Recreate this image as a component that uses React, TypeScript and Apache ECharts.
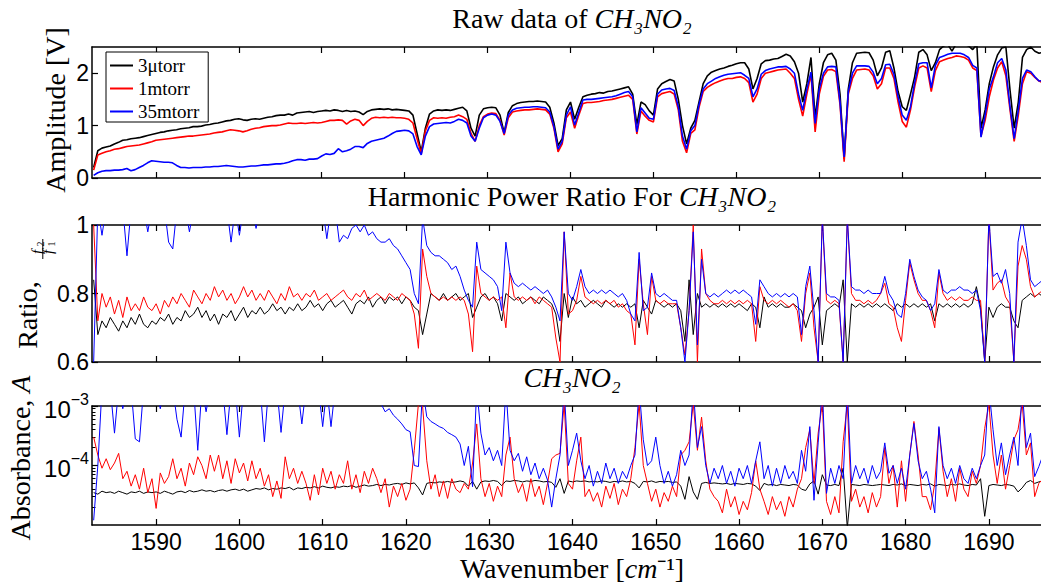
import React, { useEffect, useRef } from "react";
import * as echarts from "echarts";

// Wavenumber sample positions [cm^-1]
const WAVENUMBER = [
  1582.5,1583,1583.5,1584,1584.5,1585,1585.5,1586,1586.5,1587,
  1587.5,1588,1588.5,1589,1589.5,1590,1590.5,1591,1591.5,1592,
  1592.5,1593,1593.5,1594,1594.5,1595,1595.5,1596,1596.5,1597,
  1597.5,1598,1598.5,1599,1599.5,1600,1600.5,1601,1601.5,1602,
  1602.5,1603,1603.5,1604,1604.5,1605,1605.5,1606,1606.5,1607,
  1607.5,1608,1608.5,1609,1609.5,1610,1610.5,1611,1611.5,1612,
  1612.5,1613,1613.5,1614,1614.5,1615,1615.5,1616,1616.5,1617,
  1617.5,1618,1618.5,1619,1619.5,1620,1620.5,1621,1621.5,1622,
  1622.5,1623,1623.5,1624,1624.5,1625,1625.5,1626,1626.5,1627,
  1627.5,1628,1628.5,1629,1629.5,1630,1630.5,1631,1631.5,1632,
  1632.5,1633,1633.5,1634,1634.5,1635,1635.5,1636,1636.5,1637,
  1637.5,1638,1638.5,1639,1639.5,1640,1640.5,1641,1641.5,1642,
  1642.5,1643,1643.5,1644,1644.5,1645,1645.5,1646,1646.5,1647,
  1647.5,1648,1648.5,1649,1649.5,1650,1650.5,1651,1651.5,1652,
  1652.5,1653,1653.5,1654,1654.5,1655,1655.5,1656,1656.5,1657,
  1657.5,1658,1658.5,1659,1659.5,1660,1660.5,1661,1661.5,1662,
  1662.5,1663,1663.5,1664,1664.5,1665,1665.5,1666,1666.5,1667,
  1667.5,1668,1668.5,1669,1669.5,1670,1670.5,1671,1671.5,1672,
  1672.5,1673,1673.5,1674,1674.5,1675,1675.5,1676,1676.5,1677,
  1677.5,1678,1678.5,1679,1679.5,1680,1680.5,1681,1681.5,1682,
  1682.5,1683,1683.5,1684,1684.5,1685,1685.5,1686,1686.5,1687,
  1687.5,1688,1688.5,1689,1689.5,1690,1690.5,1691,1691.5,1692,
  1692.5,1693,1693.5,1694,1694.5,1695,1695.5,1696,1696.5,1697,
];

// ---- Raw data, Amplitude [V] ----
const AMP_3UTORR = [
  0.2,0.52,0.57,0.59,0.61,0.65,0.68,0.72,0.73,0.75,
  0.76,0.77,0.79,0.81,0.83,0.85,0.87,0.88,0.9,0.91,
  0.92,0.94,0.95,0.96,0.98,0.98,0.99,1.01,1.02,1.04,
  1.05,1.07,1.09,1.1,1.12,1.13,1.11,1.1,1.12,1.13,
  1.12,1.14,1.16,1.17,1.19,1.2,1.2,1.22,1.2,1.24,
  1.25,1.26,1.27,1.25,1.27,1.28,1.29,1.28,1.3,1.29,
  1.27,1.29,1.27,1.28,1.26,1.21,1.27,1.3,1.31,1.32,
  1.31,1.32,1.3,1.31,1.3,1.29,1.28,1.2,0.85,0.5,
  0.95,1.22,1.28,1.3,1.29,1.3,1.29,1.31,1.33,1.35,
  1.28,0.95,0.8,1.2,1.32,1.34,1.35,1.34,1.2,0.86,
  1.25,1.38,1.42,1.44,1.45,1.46,1.46,1.47,1.46,1.45,
  1.35,1.05,0.62,0.75,1.3,1.45,1.12,1.35,1.55,1.58,
  1.6,1.61,1.63,1.62,1.65,1.66,1.68,1.7,1.72,1.74,
  1.6,1.02,1.45,1.4,1.28,1.2,1.7,1.8,1.84,1.88,
  1.85,1.5,1.0,0.65,0.95,1.1,1.45,1.8,1.95,2.02,
  2.05,2.08,2.1,2.13,2.15,2.18,2.2,2.2,2.08,1.7,
  1.9,2.18,2.24,2.25,2.27,2.28,2.32,2.36,2.33,2.22,
  2.0,1.45,1.8,2.3,1.15,1.8,2.2,2.35,2.38,2.25,
  1.6,0.37,1.7,2.2,2.38,2.39,2.4,2.39,2.25,1.95,
  2.1,2.4,2.43,2.1,1.65,1.36,1.29,1.6,1.93,2.4,
  2.45,2.35,2.05,2.2,2.45,2.52,2.55,2.42,2.56,2.55,
  2.55,2.52,2.45,2.55,0.95,1.3,1.8,2.12,2.35,2.48,
  2.5,1.68,0.95,1.45,2.3,2.45,2.5,2.42,2.38,2.4,
];
const AMP_1MTORR = [
  0.15,0.44,0.47,0.5,0.52,0.55,0.56,0.58,0.6,0.61,
  0.62,0.63,0.65,0.67,0.69,0.72,0.73,0.74,0.75,0.76,
  0.77,0.78,0.79,0.8,0.8,0.81,0.82,0.83,0.84,0.86,
  0.87,0.88,0.9,0.92,0.91,0.9,0.88,0.9,0.93,0.95,
  0.96,0.98,0.99,1.0,1.0,1.01,1.03,1.05,1.04,1.04,
  1.05,1.04,1.05,1.06,1.05,1.06,1.08,1.1,1.1,1.11,
  1.1,1.03,1.09,1.12,1.1,1.0,1.08,1.14,1.16,1.15,
  1.16,1.15,1.16,1.15,1.15,1.14,1.12,1.05,0.75,0.46,
  0.9,1.1,1.15,1.14,1.15,1.14,1.16,1.17,1.2,1.17,
  1.12,0.85,0.7,1.0,1.17,1.22,1.24,1.23,1.1,0.82,
  1.15,1.26,1.28,1.29,1.3,1.3,1.31,1.32,1.31,1.3,
  1.22,0.95,0.5,0.65,1.15,1.26,0.95,1.2,1.42,1.44,
  1.44,1.45,1.46,1.48,1.49,1.5,1.52,1.54,1.56,1.58,
  1.5,0.84,1.28,1.18,1.1,1.07,1.55,1.61,1.63,1.65,
  1.6,1.3,0.7,0.48,0.85,0.92,1.35,1.65,1.73,1.78,
  1.82,1.85,1.88,1.9,1.9,1.92,1.93,1.9,1.82,1.45,
  1.6,1.9,2.0,2.02,2.04,2.06,2.07,2.08,2.0,1.9,
  1.5,1.18,1.6,1.98,0.88,1.6,1.94,2.06,2.07,2.03,
  1.4,0.31,1.6,1.9,2.06,2.07,2.08,2.06,1.95,1.7,
  1.8,2.1,2.1,1.9,1.45,1.08,0.97,1.3,1.74,2.1,
  2.14,2.1,1.65,2.05,2.22,2.25,2.28,2.3,2.33,2.32,
  2.3,2.25,2.1,2.05,0.8,1.1,1.55,1.87,2.1,2.22,
  1.95,1.3,0.7,1.2,1.8,2.03,2.0,1.92,1.85,1.82,
];
const AMP_35MTORR = [
  0.05,0.1,0.13,0.14,0.14,0.15,0.15,0.16,0.18,0.14,
  0.16,0.2,0.24,0.29,0.33,0.32,0.31,0.3,0.3,0.29,
  0.24,0.2,0.2,0.19,0.2,0.2,0.2,0.21,0.21,0.22,
  0.22,0.23,0.24,0.23,0.22,0.21,0.21,0.22,0.23,0.23,
  0.24,0.25,0.25,0.26,0.27,0.27,0.28,0.3,0.33,0.35,
  0.35,0.34,0.36,0.36,0.37,0.42,0.46,0.45,0.47,0.56,
  0.5,0.52,0.55,0.6,0.6,0.58,0.66,0.7,0.72,0.74,
  0.76,0.8,0.85,0.89,0.9,0.91,0.9,0.84,0.6,0.44,
  0.8,0.98,1.03,1.04,1.05,1.06,1.05,1.08,1.12,1.1,
  1.05,0.8,0.7,0.95,1.15,1.2,1.22,1.2,1.08,0.85,
  1.2,1.3,1.33,1.34,1.35,1.35,1.36,1.36,1.35,1.34,
  1.26,0.98,0.55,0.7,1.2,1.36,1.01,1.25,1.49,1.5,
  1.5,1.51,1.52,1.53,1.54,1.55,1.57,1.6,1.63,1.65,
  1.55,0.88,1.34,1.24,1.14,1.12,1.6,1.68,1.7,1.71,
  1.67,1.36,0.8,0.55,0.9,1.0,1.4,1.7,1.8,1.85,
  1.9,1.93,1.96,1.98,1.99,2.0,2.01,1.96,1.9,1.55,
  1.7,1.98,2.05,2.08,2.1,2.12,2.12,2.13,2.08,2.0,
  1.6,1.29,1.7,2.02,1.04,1.7,2.0,2.12,2.13,2.12,
  1.45,0.4,1.65,2.0,2.14,2.14,2.14,2.13,2.02,1.8,
  1.9,2.16,2.17,1.98,1.55,1.2,1.1,1.36,1.82,2.18,
  2.2,2.2,1.72,2.15,2.3,2.33,2.36,2.38,2.38,2.38,
  2.35,2.3,2.15,2.1,0.78,1.2,1.7,1.93,2.2,2.28,
  2.06,1.36,0.75,1.3,1.9,2.06,2.03,1.93,1.85,1.86,
];

// ---- Harmonic power ratio f2/f1 ----
const RATIO_3UTORR = [
  0.84,0.68,0.72,0.7,0.73,0.71,0.69,0.72,0.7,0.73,
  0.71,0.74,0.71,0.7,0.72,0.71,0.73,0.72,0.74,0.71,
  0.73,0.72,0.75,0.73,0.74,0.76,0.73,0.75,0.72,0.74,
  0.71,0.74,0.73,0.75,0.72,0.74,0.76,0.73,0.75,0.74,
  0.76,0.74,0.75,0.77,0.75,0.76,0.74,0.76,0.75,0.77,
  0.75,0.76,0.78,0.76,0.77,0.75,0.77,0.78,0.76,0.77,
  0.78,0.76,0.74,0.77,0.78,0.77,0.79,0.76,0.78,0.79,
  0.77,0.79,0.78,0.79,0.77,0.79,0.78,0.76,0.75,0.68,
  0.74,0.8,0.79,0.78,0.8,0.78,0.79,0.8,0.78,0.79,
  0.8,0.73,0.76,0.79,0.8,0.78,0.79,0.77,0.72,0.8,
  0.79,0.78,0.79,0.77,0.78,0.79,0.78,0.77,0.79,0.78,
  0.77,0.74,0.66,0.8,0.73,0.79,0.77,0.78,0.76,0.77,
  0.78,0.77,0.76,0.78,0.77,0.76,0.77,0.76,0.77,0.76,
  0.77,0.7,0.78,0.76,0.74,0.78,0.77,0.76,0.77,0.76,
  0.77,0.75,0.66,0.84,0.68,0.8,0.76,0.77,0.76,0.77,
  0.76,0.77,0.76,0.77,0.76,0.77,0.76,0.75,0.77,0.76,
  0.7,0.79,0.76,0.77,0.76,0.77,0.76,0.76,0.77,0.76,
  0.75,0.7,0.74,0.76,0.79,0.65,0.75,0.76,0.77,0.76,
  0.84,0.6,0.77,0.76,0.77,0.76,0.77,0.76,0.77,0.76,
  0.77,0.76,0.75,0.77,0.76,0.77,0.76,0.77,0.76,0.77,
  0.76,0.77,0.72,0.77,0.76,0.77,0.76,0.77,0.76,0.77,
  0.76,0.77,0.82,0.76,0.6,0.76,0.73,0.76,0.77,0.76,
  0.76,0.72,0.7,0.78,0.79,0.8,0.79,0.8,0.79,0.8,
];
const RATIO_1MTORR = [
  1.0,0.72,0.8,0.76,0.79,0.74,0.78,0.73,0.79,0.75,
  0.77,0.75,0.79,0.76,0.75,0.77,0.74,0.78,0.76,0.79,
  0.77,0.8,0.78,0.76,0.81,0.79,0.77,0.8,0.78,0.82,
  0.79,0.81,0.78,0.8,0.77,0.79,0.82,0.79,0.81,0.78,
  0.8,0.78,0.81,0.79,0.77,0.8,0.78,0.82,0.79,0.8,
  0.78,0.8,0.79,0.81,0.78,0.79,0.8,0.78,0.79,0.8,
  0.81,0.79,0.78,0.8,0.79,0.81,0.78,0.79,0.8,0.79,
  0.78,0.8,0.79,0.78,0.8,0.79,0.78,0.74,0.64,0.93,
  0.85,0.8,0.79,0.78,0.79,0.78,0.79,0.78,0.79,0.78,
  0.74,0.63,0.88,0.8,0.79,0.78,0.79,0.78,0.79,0.7,
  0.86,0.79,0.78,0.79,0.78,0.79,0.77,0.79,0.78,0.77,
  0.76,0.67,0.6,0.98,0.74,0.75,0.78,0.85,0.79,0.78,
  0.77,0.78,0.77,0.78,0.77,0.78,0.76,0.77,0.75,0.74,
  0.65,0.9,0.77,0.68,0.85,0.78,0.77,0.78,0.77,0.77,
  0.77,0.7,0.62,0.75,1.0,0.6,0.93,0.8,0.78,0.77,
  0.77,0.78,0.77,0.78,0.77,0.78,0.77,0.78,0.77,0.66,
  0.82,0.78,0.77,0.78,0.77,0.78,0.77,0.76,0.77,0.75,
  0.66,0.8,0.86,0.7,0.6,1.02,0.78,0.77,0.78,0.77,
  0.6,1.02,0.8,0.78,0.78,0.77,0.78,0.77,0.78,0.8,
  0.83,0.77,0.76,0.7,0.66,0.78,0.89,0.84,0.8,0.78,
  0.78,0.75,0.7,0.86,0.8,0.78,0.79,0.78,0.79,0.78,
  0.78,0.79,0.78,0.78,0.6,1.02,0.81,0.83,0.84,0.79,
  0.77,0.6,0.88,0.94,0.9,0.82,0.79,0.8,0.81,0.82,
];
const RATIO_35MTORR = [
  0.6,1.05,0.97,1.05,1.05,1.05,1.05,1.05,0.91,1.05,
  1.05,1.05,1.05,0.98,1.05,1.05,1.05,1.05,0.95,0.93,
  1.05,1.05,1.05,0.98,1.05,1.05,1.05,1.05,1.05,1.05,
  1.05,1.05,1.05,0.95,1.05,0.97,1.05,1.05,1.05,0.99,
  1.05,1.05,1.05,1.05,1.05,1.05,1.05,1.05,1.05,1.05,
  1.05,1.05,1.05,1.05,1.05,1.05,0.96,1.05,1.05,0.95,
  0.97,0.96,0.99,1.0,0.98,1.0,0.97,0.98,0.96,0.95,
  0.95,0.96,0.94,0.93,0.91,0.89,0.87,0.8,0.77,1.02,
  0.94,0.92,0.91,0.91,0.9,0.89,0.87,0.88,0.85,0.81,
  0.78,0.76,0.95,0.87,0.86,0.85,0.84,0.82,0.75,0.95,
  0.86,0.83,0.82,0.83,0.82,0.81,0.82,0.81,0.8,0.81,
  0.79,0.76,0.72,0.98,0.8,0.78,0.82,0.87,0.82,0.8,
  0.81,0.8,0.81,0.8,0.81,0.8,0.79,0.8,0.78,0.74,
  0.72,0.92,0.75,0.76,0.86,0.8,0.79,0.8,0.79,0.78,
  0.78,0.7,0.6,0.75,0.98,0.65,0.9,0.8,0.79,0.8,
  0.79,0.8,0.81,0.8,0.81,0.8,0.81,0.8,0.79,0.71,
  0.84,0.82,0.8,0.79,0.8,0.79,0.8,0.79,0.8,0.79,
  0.68,0.82,0.88,0.75,0.6,1.02,0.8,0.79,0.79,0.78,
  0.6,1.02,0.82,0.81,0.81,0.8,0.81,0.8,0.8,0.8,
  0.85,0.8,0.78,0.74,0.73,0.8,0.9,0.85,0.81,0.79,
  0.78,0.75,0.77,0.87,0.81,0.8,0.81,0.81,0.82,0.81,
  0.81,0.8,0.81,0.75,0.6,1.02,0.85,0.86,0.83,0.87,
  0.8,0.6,0.95,1.02,0.94,0.84,0.82,0.83,0.84,0.84,
];

// ---- Absorbance A (log scale) ----
const ABS_3UTORR = [
  3.5e-5,3.3e-5,3.7e-5,3.5e-5,3.6e-5,3.4e-5,3.7e-5,3.5e-5,3.3e-5,3.6e-5,
  3.5e-5,3.7e-5,3.4e-5,3.6e-5,3.5e-5,3.6e-5,3.4e-5,3.7e-5,3.5e-5,3.3e-5,
  3.6e-5,3.7e-5,3.5e-5,3.8e-5,3.6e-5,3.7e-5,3.9e-5,3.7e-5,3.8e-5,3.6e-5,
  3.8e-5,3.9e-5,3.7e-5,3.9e-5,4.0e-5,3.8e-5,4.0e-5,3.7e-5,3.9e-5,4.1e-5,
  4.0e-5,4.2e-5,3.9e-5,4.1e-5,4.0e-5,4.2e-5,4.1e-5,4.3e-5,3.9e-5,4.2e-5,
  4.1e-5,4.3e-5,4.2e-5,4.4e-5,4.2e-5,4.5e-5,4.3e-5,4.2e-5,4.4e-5,4.3e-5,
  4.5e-5,4.4e-5,4.6e-5,4.3e-5,4.5e-5,4.7e-5,4.5e-5,4.6e-5,4.8e-5,4.6e-5,
  4.8e-5,4.7e-5,4.9e-5,5.0e-5,4.8e-5,5.1e-5,4.9e-5,5.1e-5,4.2e-5,3.2e-5,
  5.0e-5,5.2e-5,5.1e-5,5.3e-5,5.2e-5,5.4e-5,5.2e-5,5.3e-5,5.5e-5,5.3e-5,
  4.5e-5,5.4e-5,4.0e-5,5.3e-5,5.5e-5,5.4e-5,5.6e-5,5.4e-5,4.6e-5,5.5e-5,
  5.4e-5,5.6e-5,5.5e-5,5.3e-5,5.5e-5,5.4e-5,5.6e-5,5.5e-5,5.3e-5,5.4e-5,
  5.2e-5,4.3e-5,6.0e-5,3.4e-5,5.5e-5,5.3e-5,5.5e-5,5.4e-5,5.5e-5,5.3e-5,
  5.4e-5,5.3e-5,5.5e-5,5.4e-5,5.2e-5,5.4e-5,5.3e-5,5.5e-5,5.3e-5,5.4e-5,
  5.0e-5,4.2e-5,5.4e-5,5.3e-5,5.5e-5,5.2e-5,5.4e-5,5.3e-5,5.4e-5,5.2e-5,
  5.3e-5,4.5e-5,2.7e-5,6.5e-5,3.6e-5,2.7e-5,5.0e-5,5.2e-5,5.0e-5,5.1e-5,
  5.0e-5,4.9e-5,5.0e-5,4.8e-5,5.0e-5,4.9e-5,4.8e-5,5.0e-5,4.9e-5,4.5e-5,
  3.8e-5,5.0e-5,4.7e-5,4.8e-5,4.6e-5,4.8e-5,4.7e-5,4.6e-5,4.8e-5,4.7e-5,
  4.0e-5,3.8e-5,4.9e-5,5.5e-5,3.3e-5,7.0e-5,4.7e-5,4.6e-5,4.8e-5,4.6e-5,
  9.0e-5,0.9e-5,4.8e-5,4.7e-5,4.6e-5,4.8e-5,4.7e-5,4.6e-5,4.7e-5,4.8e-5,
  4.7e-5,4.6e-5,4.8e-5,4.7e-5,4.9e-5,4.6e-5,4.8e-5,4.7e-5,4.6e-5,4.8e-5,
  4.7e-5,4.9e-5,4.5e-5,4.8e-5,4.7e-5,4.6e-5,4.8e-5,4.7e-5,4.9e-5,4.7e-5,
  4.6e-5,4.8e-5,4.7e-5,6.0e-5,1.4e-5,4.6e-5,4.8e-5,4.7e-5,4.6e-5,4.8e-5,
  4.7e-5,4.5e-5,3.6e-5,4.2e-5,5.2e-5,5.6e-5,5.0e-5,5.3e-5,5.5e-5,5.2e-5,
];
const ABS_1MTORR = [
  3e-4,1.5e-4,9e-5,1.3e-4,8.5e-5,1.1e-4,1.6e-4,6e-5,8e-5,4.5e-5,
  7e-5,4e-5,9e-5,3.5e-5,6e-5,1.9e-5,7.5e-5,5e-5,6.5e-5,1.3e-4,
  6e-5,9e-5,4.5e-5,1.1e-4,7e-5,1.4e-4,1.0e-4,6e-5,1.5e-4,8e-5,
  1.5e-4,6e-5,1.2e-4,5e-5,1.3e-4,7.5e-5,1.1e-4,5.5e-5,1.2e-4,6e-5,
  9e-5,4.5e-5,7e-5,3e-5,5.5e-5,2.8e-5,1.4e-4,6e-5,9e-5,5e-5,
  8e-5,5e-5,2.6e-5,7e-5,3.2e-5,9e-5,5e-5,8e-5,4e-5,7e-5,
  5e-5,1.2e-4,4e-5,7e-5,3.5e-5,8e-5,5e-5,9e-5,6e-5,3.5e-5,
  6e-5,2e-5,4.5e-5,3e-5,5e-5,2.6e-5,4e-5,1.8e-4,1.1e-3,1.0e-3,
  1.2e-4,4e-5,7e-5,3e-5,5.5e-5,2.8e-5,6e-5,4e-5,3.5e-5,5e-5,
  4e-5,1.1e-4,5e-4,6e-5,3e-5,5e-5,2.5e-5,4.5e-5,3e-5,1.5e-4,
  3e-4,6e-5,3.5e-5,5e-5,2.5e-5,6e-5,3e-5,4.5e-5,2.2e-5,5e-5,
  1.3e-4,1.5e-4,1.6e-4,1.1e-3,5e-5,4e-5,1.2e-4,3e-4,3e-5,4e-5,
  2.5e-5,3.5e-5,2e-5,4.5e-5,2.8e-5,5e-5,2.2e-5,4e-5,3e-5,6e-5,
  2e-4,1.1e-3,1e-4,5e-5,2.5e-5,4e-5,2e-5,3.5e-5,2.5e-5,4.5e-5,
  3e-5,1.5e-4,1.8e-4,2.5e-4,1.1e-3,1.8e-4,6.5e-4,1.2e-4,4e-5,3e-5,
  2.5e-5,1.6e-5,4e-5,2e-5,3e-5,1.5e-5,2.5e-5,1.8e-5,3.5e-5,1.2e-4,
  4e-5,2.5e-5,1.5e-5,3e-5,1.8e-5,2.5e-5,1.4e-5,3e-5,2e-5,4e-5,
  6e-5,2e-4,4e-4,5e-5,3.5e-4,1.1e-3,2.5e-5,1.5e-5,3e-5,1.6e-5,
  2.5e-4,1.1e-3,2.5e-5,4e-5,2e-5,3e-5,1.6e-5,3.5e-5,2e-5,3e-5,
  2e-4,5e-5,1e-4,2e-5,1.2e-4,2.5e-5,1.5e-4,5.5e-4,1.5e-4,3e-5,
  3e-5,1.8e-5,5e-5,4.2e-4,8e-5,3e-5,6e-5,2.5e-5,9e-5,4e-5,
  3e-5,8e-5,5e-5,1e-4,4.2e-4,1.1e-3,1.5e-4,5e-5,1.5e-4,4e-5,
  1e-4,2.7e-4,4e-4,1.1e-3,1.5e-4,2.4e-4,3e-5,5e-5,6e-5,1.2e-4,
];
const ABS_35MTORR = [
  1.2e-5,1e-4,2e-3,2e-3,2e-3,3.5e-4,2e-3,9e-4,2e-3,2e-3,
  2.8e-4,2.5e-4,2e-3,2e-3,2e-3,2e-3,9e-4,2e-3,2e-3,2e-3,
  6e-4,3e-4,2e-3,2e-3,2e-3,1.8e-4,2e-3,8e-4,2e-3,2e-3,
  2e-3,2e-3,3.3e-4,2e-3,2e-3,3e-4,2e-3,2e-3,2e-3,2e-3,
  2e-3,2.5e-4,2e-3,2e-3,2e-3,3.6e-4,2e-3,2e-3,2e-3,2e-3,
  5e-4,2e-3,2e-3,2e-3,2e-3,4.5e-4,2e-3,4.5e-4,2e-3,2e-3,
  2e-3,2e-3,2e-3,2e-3,2e-3,2e-3,2e-3,2e-3,2e-3,1.1e-3,
  8e-4,9e-4,7e-4,6e-4,5e-4,4e-4,3.7e-4,1e-4,9.6e-5,2e-3,
  6.6e-4,5.5e-4,5e-4,4.5e-4,4.2e-4,3.6e-4,3.3e-4,3e-4,2.3e-4,1e-4,
  2.1e-4,4.4e-5,2e-3,3.5e-4,1.5e-4,2e-4,1.2e-4,1.8e-4,1e-4,2e-3,
  1.8e-4,1.2e-4,1.6e-4,8e-5,1.4e-4,7e-5,1.1e-4,6e-5,9e-5,5.7e-5,
  2e-5,6e-5,1.5e-4,2e-3,1e-4,1.8e-4,3.5e-4,1.2e-4,6e-5,1e-4,
  4.5e-5,8e-5,5e-5,1.1e-4,6e-5,9e-5,5e-5,8e-5,6e-5,1e-4,
  1.5e-4,2e-3,2.7e-4,1e-4,1.2e-4,3e-4,1e-4,5e-5,8e-5,4.5e-5,
  7e-5,1.8e-4,1e-4,1.5e-4,2e-3,2e-4,4.5e-4,1e-4,5e-5,9e-5,
  6e-5,1e-4,5e-5,8e-5,4.5e-5,9e-5,6e-5,1e-4,5e-5,1.2e-4,
  2.5e-4,6e-5,1e-4,4.5e-5,9e-5,5e-5,1e-4,6e-5,8e-5,5e-5,
  1.8e-4,8e-5,4.5e-4,2.6e-5,2.4e-4,2e-3,3.4e-5,9e-5,5e-5,1e-4,
  6e-5,2e-3,5e-5,1e-4,6e-5,9e-5,5e-5,1e-4,6e-5,8e-5,
  2.4e-4,7.4e-5,1e-4,5e-5,9e-5,4e-5,1.5e-4,5.1e-4,1.2e-4,6e-5,
  8e-5,4e-5,1.6e-5,4.5e-4,1e-4,6e-5,9e-5,5e-5,1e-4,6e-5,
  5e-5,9e-5,6e-5,1e-4,1.5e-4,2e-3,4e-4,1e-4,2.4e-4,7e-5,
  1.5e-4,3e-4,1e-4,2e-3,2e-4,3.5e-4,6.5e-5,9.6e-5,1.5e-4,2e-4,
];

const SERIES_NAMES = ["3μtorr", "1mtorr", "35mtorr"];
const SERIES_COLORS = ["#000000", "#ff0000", "#0000ff"];
const X_TICKS = [1590, 1600, 1610, 1620, 1630, 1640, 1650, 1660, 1670, 1680, 1690];
const AMP_TICKS = [0, 1, 2];
const RATIO_TICKS = [0.6, 0.8, 1];
const ABS_MINOR_TICKS = [
  2e-5, 3e-5, 4e-5, 5e-5, 6e-5, 7e-5, 8e-5, 9e-5,
  2e-4, 3e-4, 4e-4, 5e-4, 6e-4, 7e-4, 8e-4, 9e-4,
];
const X_MIN = 1582.3;
const X_MAX = 1697.7;

const SERIF = "'Liberation Serif', 'Times New Roman', serif";
const SANS = "'Liberation Sans', Arial, sans-serif";

const pairs = (ys: number[]) => WAVENUMBER.map((x, i) => [x, ys[i]]);

export default function App() {
  const ref = useRef<HTMLDivElement>(null);

  useEffect(() => {
    if (!ref.current) return;
    const chart = echarts.init(ref.current, undefined, { renderer: "svg" });

    const grids = [
      { left: 92, top: 47, width: 957, height: 131 },
      { left: 92, top: 225, width: 961, height: 137 },
      { left: 92, top: 406, width: 961, height: 119 },
    ].map((g) => ({ ...g, outerBoundsMode: "none", containLabel: false }));

    const xAxes: any[] = [];
    grids.forEach((_, gi) => {
      ["bottom", "top"].forEach((pos) => {
        xAxes.push({
          type: "value",
          gridIndex: gi,
          position: pos,
          min: X_MIN,
          max: X_MAX,
          axisLine: { show: true, onZero: false, lineStyle: { color: "#000", width: 1.5 } },
          axisTick: {
            show: true,
            inside: true,
            length: 6,
            customValues: X_TICKS,
            lineStyle: { color: "#000", width: 1.2 },
          },
          axisLabel: {
            show: gi === 2 && pos === "bottom",
            customValues: X_TICKS,
            formatter: (v: number) => String(Math.round(v)),
            fontFamily: SANS,
            fontSize: 23,
            color: "#000",
            margin: 5,
          },
          splitLine: { show: false },
        });
      });
    });

    const yCommon = {
      axisLine: { show: true, onZero: false, lineStyle: { color: "#000", width: 1.5 } },
      splitLine: { show: false },
    };
    const yAxes: any[] = [
      {
        ...yCommon,
        type: "value",
        gridIndex: 0,
        min: 0,
        max: 2.5,
        axisTick: { show: true, inside: true, length: 6, customValues: AMP_TICKS, lineStyle: { color: "#000", width: 1.2 } },
        axisLabel: { customValues: AMP_TICKS, fontFamily: SANS, fontSize: 23, color: "#000", margin: 3 },
      },
      {
        ...yCommon,
        type: "value",
        gridIndex: 1,
        min: 0.6,
        max: 1,
        axisTick: { show: true, inside: true, length: 6, customValues: RATIO_TICKS, lineStyle: { color: "#000", width: 1.2 } },
        axisLabel: { customValues: RATIO_TICKS, fontFamily: SANS, fontSize: 23, color: "#000", margin: 3 },
      },
      {
        ...yCommon,
        type: "log",
        logBase: 10,
        gridIndex: 2,
        position: "left",
        min: 1e-5,
        max: 1e-3,
        axisTick: { show: true, inside: true, length: 6, lineStyle: { color: "#000", width: 1.2 } },
        axisLabel: {
          showMinLabel: false,
          margin: 3,
          formatter: (v: number) => {
            const e = Math.round(Math.log10(v));
            return `{b|10}{s|−${Math.abs(e)}}`;
          },
          rich: {
            b: { fontFamily: SANS, fontSize: 24, color: "#000", lineHeight: 30, verticalAlign: "bottom" },
            s: { fontFamily: SANS, fontSize: 16, color: "#000", lineHeight: 30, verticalAlign: "top" },
          },
        },
      },
      {
        // minor ticks of the log axis
        type: "log",
        logBase: 10,
        gridIndex: 2,
        position: "left",
        min: 1e-5,
        max: 1e-3,
        axisLine: { show: false },
        splitLine: { show: false },
        axisLabel: { show: false },
        axisTick: { show: true, inside: true, length: 3.5, customValues: ABS_MINOR_TICKS, lineStyle: { color: "#000", width: 1 } },
      },
    ];

    const panels = [
      [AMP_3UTORR, AMP_1MTORR, AMP_35MTORR],
      [RATIO_3UTORR, RATIO_1MTORR, RATIO_35MTORR],
      [ABS_3UTORR, ABS_1MTORR, ABS_35MTORR],
    ];
    const series: any[] = [];
    panels.forEach((arrs, pi) => {
      arrs.forEach((arr, si) => {
        series.push({
          type: "line",
          name: SERIES_NAMES[si],
          xAxisIndex: pi * 2,
          yAxisIndex: pi,
          data: pairs(arr),
          symbol: "none",
          showSymbol: false,
          clip: true,
          silent: true,
          z: 2 + si,
          lineStyle: { color: SERIES_COLORS[si], width: pi === 0 ? 1.6 : 1 },
          itemStyle: { color: SERIES_COLORS[si] },
        });
      });
    });

    const FS = 28;
    const titleRich = {
      r: { fontFamily: SERIF, fontSize: FS, fill: "#000" },
      i: { fontFamily: SERIF, fontSize: FS, fontStyle: "italic", fill: "#000" },
    };
    const txt = (x: number, y: number, text: string, rot = 0) => ({
      type: "text",
      x,
      y,
      rotation: rot,
      style: { text, rich: titleRich, align: "center", verticalAlign: "middle" },
    });
    const small = (x: number, y: number, text: string, size: number, italic: boolean) => ({
      type: "text",
      x,
      y,
      rotation: Math.PI / 2,
      style: {
        text,
        fontFamily: SERIF,
        fontSize: size,
        fontStyle: italic ? "italic" : "normal",
        fill: "#000",
        align: "center",
        verticalAlign: "middle",
      },
    });

    const graphic: any[] = [
      txt(572, 18.5, "{r|Raw data of }{i|CH₃NO₂}"),
      txt(572, 196.5, "{r|Harmonic Power Ratio For }{i|CH₃NO₂}"),
      txt(572, 377.5, "{i|CH₃NO₂}"),
      txt(572, 568, "{r|Wavenumber [}{i|cm}{r|⁻¹]}"),
      txt(55.5, 110, "{r|Amplitude [V]}", Math.PI / 2),
      txt(27, 315, "{r|Ratio,}", Math.PI / 2),
      txt(20.5, 458, "{r|Absorbance, }{i|A}", Math.PI / 2),
      // fraction f2 / f1 (rotated)
      small(37, 252, "f", 15, true),
      small(40.5, 244, "2", 10, false),
      small(48, 252, "f", 15, true),
      small(51.5, 244, "1", 10, false),
      { type: "line", shape: { x1: 42.8, y1: 239, x2: 42.8, y2: 259 }, style: { stroke: "#000", lineWidth: 1 } },
    ];

    chart.setOption({
      animation: false,
      backgroundColor: "#ffffff",
      color: SERIES_COLORS,
      grid: grids,
      xAxis: xAxes,
      yAxis: yAxes,
      series,
      legend: {
        show: true,
        data: SERIES_NAMES,
        orient: "vertical",
        left: 106,
        top: 52,
        backgroundColor: "#ffffff",
        borderColor: "#000000",
        borderWidth: 1,
        borderRadius: 0,
        padding: [4, 9, 1, 4],
        itemGap: 4,
        itemWidth: 23,
        itemHeight: 2,
        icon: "rect",
        selectedMode: false,
        textStyle: { fontFamily: SERIF, fontSize: 19, color: "#000" },
      },
      graphic,
    });

    return () => chart.dispose();
  }, []);

  return (
    <div
      ref={ref}
      style={{ position: "absolute", left: 0, top: 0, width: 1041, height: 588, background: "#fff", overflow: "hidden" }}
    />
  );
}
